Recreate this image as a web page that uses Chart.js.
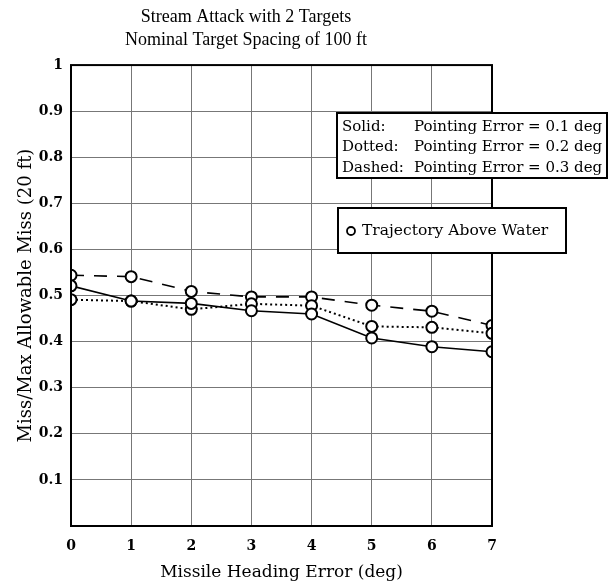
<!DOCTYPE html>
<html>
<head>
<meta charset="utf-8">
<script src="https://cdn.jsdelivr.net/npm/chart.js@4.4.1/dist/chart.umd.min.js"></script>
<style>
  html, body { margin: 0; padding: 0; background: #fff; }
  #wrap { width: 616px; height: 583px; }
</style>
</head>
<body>
<div id="wrap"><canvas id="chart" width="616" height="583"></canvas></div>
<script>
// heading error (deg)
const headingError = [0, 1, 2, 3, 4, 5, 6, 7];
// miss / max allowable miss
const solidVals  = [0.521, 0.488, 0.483, 0.467, 0.460, 0.408, 0.389, 0.378];
const dottedVals = [0.491, 0.488, 0.470, 0.482, 0.478, 0.433, 0.431, 0.418];
const dashedVals = [0.544, 0.541, 0.509, 0.497, 0.497, 0.479, 0.466, 0.435];
const seriesNames = ["Pointing Error = 0.1 deg", "Pointing Error = 0.2 deg", "Pointing Error = 0.3 deg"];
const styleNames = ["Solid:", "Dotted:", "Dashed:"];

const serif = "'DejaVu Serif', 'Liberation Serif', serif";
const titleSerif = "'Liberation Serif', 'DejaVu Serif', serif";

function pts(vals) {
    return headingError.map((x, i) => ({ x: x, y: vals[i] }));
}

function makeSet(label, vals, dash, width) {
    return {
        label: label,
        data: pts(vals),
        borderColor: "#000",
        borderWidth: width,
        borderDash: dash,
        pointRadius: 5.5,
        pointBorderWidth: 2,
        pointBackgroundColor: "#fff",
        pointBorderColor: "#000",
        tension: 0,
    };
}

// draws the plot frame and the two key boxes
const extras = {
    id: "extras",
    afterDraw(chart) {
        const ctx = chart.ctx;
        const a = chart.chartArea;
        ctx.save();
        ctx.strokeStyle = "#000";
        ctx.lineWidth = 2;
        ctx.strokeRect(a.left, a.top, a.right - a.left, a.bottom - a.top);

        // line style key
        ctx.fillStyle = "#fff";
        ctx.fillRect(337, 113, 270, 65);
        ctx.strokeRect(337, 113, 270, 65);
        ctx.fillStyle = "#000";
        ctx.font = "15px " + serif;
        ctx.textBaseline = "middle";
        ctx.textAlign = "left";
        for (let i = 0; i < 3; i++) {
            const y = 127 + i * 20.5;
            ctx.fillText(styleNames[i], 342, y);
            ctx.fillText(seriesNames[i], 414, y);
        }

        // marker key
        ctx.fillStyle = "#fff";
        ctx.fillRect(338, 208, 228, 45);
        ctx.strokeRect(338, 208, 228, 45);
        ctx.beginPath();
        ctx.arc(351, 231, 4, 0, Math.PI * 2);
        ctx.lineWidth = 1.8;
        ctx.stroke();
        ctx.fillStyle = "#000";
        ctx.font = "15.5px " + serif;
        ctx.fillText("Trajectory Above Water", 362, 231);
        ctx.restore();
    }
};

new Chart(document.getElementById("chart"), {
    type: "line",
    data: {
        datasets: [
            makeSet(seriesNames[0], solidVals, [], 1.6),
            makeSet(seriesNames[1], dottedVals, [2, 3], 2),
            makeSet(seriesNames[2], dashedVals, [13, 10], 1.6),
        ],
    },
    options: {
        responsive: false,
        animation: false,
        layout: { padding: { left: 0, right: 124, top: 0, bottom: 0 } },
        plugins: {
            legend: { display: false },
            tooltip: { enabled: false },
            title: {
                display: true,
                text: ["Stream Attack with 2 Targets", "Nominal Target Spacing of 100 ft"],
                color: "#000",
                font: { family: titleSerif, size: 18, weight: "normal", lineHeight: 1.28 },
                padding: { top: 6, bottom: 13 },
            },
        },
        scales: {
            x: {
                type: "linear",
                min: 0,
                max: 7,
                ticks: {
                    stepSize: 1,
                    color: "#000",
                    padding: 12,
                    font: { family: serif, size: 14, weight: "bold" },
                },
                grid: { color: "#777", lineWidth: 1, drawTicks: false },
                border: { display: false },
                title: {
                    display: true,
                    text: "Missile Heading Error (deg)",
                    color: "#000",
                    font: { family: serif, size: 17 },
                    padding: { top: 4, bottom: 0 },
                },
                afterFit(s) { s.height = 57; },
            },
            y: {
                min: 0,
                max: 1,
                ticks: {
                    stepSize: 0.1,
                    color: "#000",
                    padding: 8,
                    font: { family: serif, size: 14, weight: "bold" },
                    callback: v => (v === 0 ? "" : v === 1 ? "1" : v.toFixed(1)),
                },
                grid: { color: "#777", lineWidth: 1, drawTicks: false },
                border: { display: false },
                title: {
                    display: true,
                    text: "Miss/Max Allowable Miss (20 ft)",
                    color: "#000",
                    font: { family: serif, size: 18 },
                    padding: { top: 16, bottom: 2 },
                },
                afterFit(s) { s.width = 71; },
            },
        },
    },
    plugins: [extras],
});
</script>
</body>
</html>
